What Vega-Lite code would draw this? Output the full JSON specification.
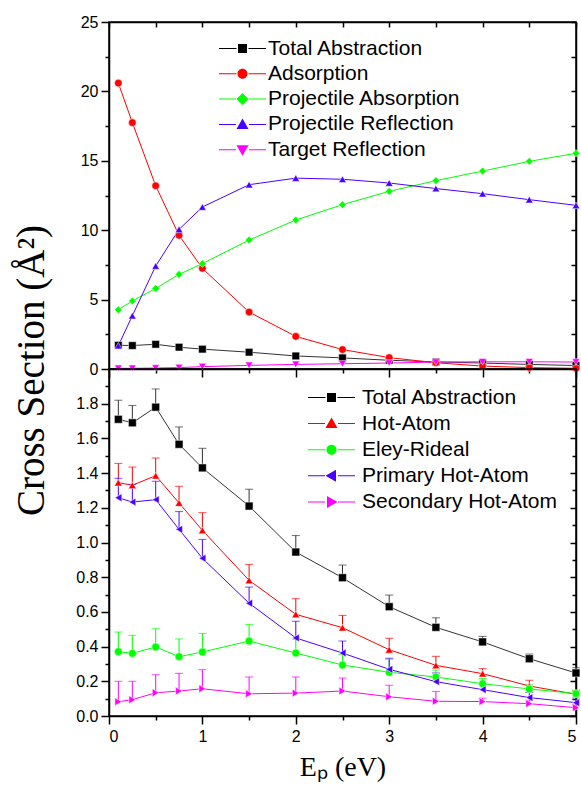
{
  "$schema": "https://vega.github.io/schema/vega-lite/v6.json",
  "padding": {"left": 11, "top": 13, "right": 0, "bottom": 0},
  "background": "white",
  "config": {
    "font": "Liberation Sans",
    "view": {"stroke": "black", "strokeWidth": 1.5},
    "axis": {"domainColor": "black", "domainWidth": 1.5, "tickColor": "black", "tickWidth": 1.5, "labelColor": "black", "labelFont": "Liberation Sans", "labelFontSize": 16, "grid": false, "titleColor": "black", "titleFontWeight": "normal"}
  },
  "datasets": {
    "top": [
      {"E": 0.1, "s": "Total Abstraction", "v": 1.71}, {"E": 0.25, "s": "Total Abstraction", "v": 1.69}, {"E": 0.5, "s": "Total Abstraction", "v": 1.78}, {"E": 0.75, "s": "Total Abstraction", "v": 1.57}, {"E": 1, "s": "Total Abstraction", "v": 1.43}, {"E": 1.5, "s": "Total Abstraction", "v": 1.21}, {"E": 2, "s": "Total Abstraction", "v": 0.94}, {"E": 2.5, "s": "Total Abstraction", "v": 0.8}, {"E": 3, "s": "Total Abstraction", "v": 0.63}, {"E": 3.5, "s": "Total Abstraction", "v": 0.51}, {"E": 4, "s": "Total Abstraction", "v": 0.43}, {"E": 4.5, "s": "Total Abstraction", "v": 0.33}, {"E": 5, "s": "Total Abstraction", "v": 0.25},
      {"E": 0.1, "s": "Adsorption", "v": 20.6}, {"E": 0.25, "s": "Adsorption", "v": 17.75}, {"E": 0.5, "s": "Adsorption", "v": 13.2}, {"E": 0.75, "s": "Adsorption", "v": 9.63}, {"E": 1, "s": "Adsorption", "v": 7.25}, {"E": 1.5, "s": "Adsorption", "v": 4.1}, {"E": 2, "s": "Adsorption", "v": 2.35}, {"E": 2.5, "s": "Adsorption", "v": 1.4}, {"E": 3, "s": "Adsorption", "v": 0.82}, {"E": 3.5, "s": "Adsorption", "v": 0.45}, {"E": 4, "s": "Adsorption", "v": 0.21}, {"E": 4.5, "s": "Adsorption", "v": 0.1}, {"E": 5, "s": "Adsorption", "v": 0.05},
      {"E": 0.1, "s": "Projectile Absorption", "v": 4.27}, {"E": 0.25, "s": "Projectile Absorption", "v": 4.9}, {"E": 0.5, "s": "Projectile Absorption", "v": 5.8}, {"E": 0.75, "s": "Projectile Absorption", "v": 6.82}, {"E": 1, "s": "Projectile Absorption", "v": 7.59}, {"E": 1.5, "s": "Projectile Absorption", "v": 9.29}, {"E": 2, "s": "Projectile Absorption", "v": 10.73}, {"E": 2.5, "s": "Projectile Absorption", "v": 11.84}, {"E": 3, "s": "Projectile Absorption", "v": 12.8}, {"E": 3.5, "s": "Projectile Absorption", "v": 13.57}, {"E": 4, "s": "Projectile Absorption", "v": 14.26}, {"E": 4.5, "s": "Projectile Absorption", "v": 14.96}, {"E": 5, "s": "Projectile Absorption", "v": 15.54},
      {"E": 0.1, "s": "Projectile Reflection", "v": 1.68}, {"E": 0.25, "s": "Projectile Reflection", "v": 3.84}, {"E": 0.5, "s": "Projectile Reflection", "v": 7.42}, {"E": 0.75, "s": "Projectile Reflection", "v": 10.06}, {"E": 1, "s": "Projectile Reflection", "v": 11.67}, {"E": 1.5, "s": "Projectile Reflection", "v": 13.28}, {"E": 2, "s": "Projectile Reflection", "v": 13.75}, {"E": 2.5, "s": "Projectile Reflection", "v": 13.67}, {"E": 3, "s": "Projectile Reflection", "v": 13.4}, {"E": 3.5, "s": "Projectile Reflection", "v": 13.0}, {"E": 4, "s": "Projectile Reflection", "v": 12.63}, {"E": 4.5, "s": "Projectile Reflection", "v": 12.2}, {"E": 5, "s": "Projectile Reflection", "v": 11.79},
      {"E": 0.1, "s": "Target Reflection", "v": 0.05}, {"E": 0.25, "s": "Target Reflection", "v": 0.05}, {"E": 0.5, "s": "Target Reflection", "v": 0.07}, {"E": 0.75, "s": "Target Reflection", "v": 0.1}, {"E": 1, "s": "Target Reflection", "v": 0.17}, {"E": 1.5, "s": "Target Reflection", "v": 0.26}, {"E": 2, "s": "Target Reflection", "v": 0.33}, {"E": 2.5, "s": "Target Reflection", "v": 0.38}, {"E": 3, "s": "Target Reflection", "v": 0.43}, {"E": 3.5, "s": "Target Reflection", "v": 0.5}, {"E": 4, "s": "Target Reflection", "v": 0.52}, {"E": 4.5, "s": "Target Reflection", "v": 0.52}, {"E": 5, "s": "Target Reflection", "v": 0.5}
    ],
    "bot": [
      {"E": 0.1, "s": "Total Abstraction", "v": 1.71, "hi": 1.82}, {"E": 0.25, "s": "Total Abstraction", "v": 1.69, "hi": 1.79}, {"E": 0.5, "s": "Total Abstraction", "v": 1.78, "hi": 1.885}, {"E": 0.75, "s": "Total Abstraction", "v": 1.566, "hi": 1.666}, {"E": 1, "s": "Total Abstraction", "v": 1.43, "hi": 1.543}, {"E": 1.5, "s": "Total Abstraction", "v": 1.21, "hi": 1.307}, {"E": 2, "s": "Total Abstraction", "v": 0.945, "hi": 1.04}, {"E": 2.5, "s": "Total Abstraction", "v": 0.797, "hi": 0.87}, {"E": 3, "s": "Total Abstraction", "v": 0.63, "hi": 0.697}, {"E": 3.5, "s": "Total Abstraction", "v": 0.511, "hi": 0.566}, {"E": 4, "s": "Total Abstraction", "v": 0.427, "hi": 0.459}, {"E": 4.5, "s": "Total Abstraction", "v": 0.33, "hi": 0.357}, {"E": 5, "s": "Total Abstraction", "v": 0.248, "hi": 0.278},
      {"E": 0.1, "s": "Hot-Atom", "v": 1.345, "hi": 1.456}, {"E": 0.25, "s": "Hot-Atom", "v": 1.33, "hi": 1.435}, {"E": 0.5, "s": "Hot-Atom", "v": 1.385, "hi": 1.487}, {"E": 0.75, "s": "Hot-Atom", "v": 1.228, "hi": 1.324}, {"E": 1, "s": "Hot-Atom", "v": 1.07, "hi": 1.172}, {"E": 1.5, "s": "Hot-Atom", "v": 0.782, "hi": 0.874}, {"E": 2, "s": "Hot-Atom", "v": 0.586, "hi": 0.676}, {"E": 2.5, "s": "Hot-Atom", "v": 0.509, "hi": 0.58}, {"E": 3, "s": "Hot-Atom", "v": 0.382, "hi": 0.448}, {"E": 3.5, "s": "Hot-Atom", "v": 0.292, "hi": 0.344}, {"E": 4, "s": "Hot-Atom", "v": 0.244, "hi": 0.273}, {"E": 4.5, "s": "Hot-Atom", "v": 0.173, "hi": 0.206}, {"E": 5, "s": "Hot-Atom", "v": 0.125, "hi": 0.145},
      {"E": 0.1, "s": "Eley-Rideal", "v": 0.371, "hi": 0.484}, {"E": 0.25, "s": "Eley-Rideal", "v": 0.361, "hi": 0.465}, {"E": 0.5, "s": "Eley-Rideal", "v": 0.398, "hi": 0.503}, {"E": 0.75, "s": "Eley-Rideal", "v": 0.342, "hi": 0.444}, {"E": 1, "s": "Eley-Rideal", "v": 0.369, "hi": 0.476}, {"E": 1.5, "s": "Eley-Rideal", "v": 0.432, "hi": 0.528}, {"E": 2, "s": "Eley-Rideal", "v": 0.363, "hi": 0.443}, {"E": 2.5, "s": "Eley-Rideal", "v": 0.294, "hi": 0.354}, {"E": 3, "s": "Eley-Rideal", "v": 0.252, "hi": 0.327}, {"E": 3.5, "s": "Eley-Rideal", "v": 0.225, "hi": 0.265}, {"E": 4, "s": "Eley-Rideal", "v": 0.186, "hi": 0.216}, {"E": 4.5, "s": "Eley-Rideal", "v": 0.156, "hi": 0.181}, {"E": 5, "s": "Eley-Rideal", "v": 0.129, "hi": 0.149},
      {"E": 0.1, "s": "Primary Hot-Atom", "v": 1.258, "hi": 1.37}, {"E": 0.25, "s": "Primary Hot-Atom", "v": 1.233, "hi": 1.335}, {"E": 0.5, "s": "Primary Hot-Atom", "v": 1.247, "hi": 1.353}, {"E": 0.75, "s": "Primary Hot-Atom", "v": 1.076, "hi": 1.178}, {"E": 1, "s": "Primary Hot-Atom", "v": 0.909, "hi": 1.018}, {"E": 1.5, "s": "Primary Hot-Atom", "v": 0.65, "hi": 0.743}, {"E": 2, "s": "Primary Hot-Atom", "v": 0.45, "hi": 0.546}, {"E": 2.5, "s": "Primary Hot-Atom", "v": 0.363, "hi": 0.432}, {"E": 3, "s": "Primary Hot-Atom", "v": 0.269, "hi": 0.333}, {"E": 3.5, "s": "Primary Hot-Atom", "v": 0.198, "hi": 0.248}, {"E": 4, "s": "Primary Hot-Atom", "v": 0.152, "hi": 0.182}, {"E": 4.5, "s": "Primary Hot-Atom", "v": 0.106, "hi": 0.136}, {"E": 5, "s": "Primary Hot-Atom", "v": 0.077, "hi": 0.097},
      {"E": 0.1, "s": "Secondary Hot-Atom", "v": 0.082, "hi": 0.2}, {"E": 0.25, "s": "Secondary Hot-Atom", "v": 0.094, "hi": 0.2}, {"E": 0.5, "s": "Secondary Hot-Atom", "v": 0.134, "hi": 0.238}, {"E": 0.75, "s": "Secondary Hot-Atom", "v": 0.144, "hi": 0.246}, {"E": 1, "s": "Secondary Hot-Atom", "v": 0.157, "hi": 0.267}, {"E": 1.5, "s": "Secondary Hot-Atom", "v": 0.128, "hi": 0.225}, {"E": 2, "s": "Secondary Hot-Atom", "v": 0.132, "hi": 0.225}, {"E": 2.5, "s": "Secondary Hot-Atom", "v": 0.144, "hi": 0.219}, {"E": 3, "s": "Secondary Hot-Atom", "v": 0.111, "hi": 0.177}, {"E": 3.5, "s": "Secondary Hot-Atom", "v": 0.085, "hi": 0.142}, {"E": 4, "s": "Secondary Hot-Atom", "v": 0.083, "hi": 0.103}, {"E": 4.5, "s": "Secondary Hot-Atom", "v": 0.071, "hi": 0.091}, {"E": 5, "s": "Secondary Hot-Atom", "v": 0.048, "hi": 0.068}
    ]
  },
  "vconcat": [
    {
      "width": 467, "height": 347,
      "data": {"name": "top"},
      "layer": [
        {
          "mark": {"type": "line", "strokeWidth": 1},
          "encoding": {
            "x": {"field": "E", "type": "quantitative", "scale": {"domain": [0, 5], "nice": false},
                  "axis": {"orient": "bottom", "values": [0, 0.5, 1, 1.5, 2, 2.5, 3, 3.5, 4, 4.5, 5], "labels": false, "title": null,
                           "tickSize": {"condition": {"test": "datum.value % 1 === 0", "value": 8}, "value": 4}}},
            "y": {"field": "v", "type": "quantitative", "scale": {"domain": [0, 25], "nice": false},
                  "axis": {"orient": "left", "values": [0, 2.5, 5, 7.5, 10, 12.5, 15, 17.5, 20, 22.5, 25],
                           "labelExpr": "datum.value % 5 === 0 ? format(datum.value, 'd') : ''", "labelPadding": 3,
                           "tickSize": {"condition": {"test": "datum.value % 5 === 0", "value": 8}, "value": 4},
                           "title": "Cross Section (Å²)", "titleFont": "Liberation Serif", "titleFontSize": 39,
                           "titleAngle": 270, "titleAlign": "center", "titleBaseline": "alphabetic", "titleX": -66, "titleY": 348}},
            "color": {"field": "s", "type": "nominal", "legend": null,
                      "scale": {"domain": ["Total Abstraction", "Adsorption", "Projectile Absorption", "Projectile Reflection", "Target Reflection"],
                                "range": ["#333333", "#FF0000", "#00FF00", "#4B00FF", "#FF00FF"]}}
          }
        },
        {
          "mark": {"type": "point", "filled": true, "size": 58, "opacity": 1, "stroke": "white", "strokeWidth": 0.5},
          "encoding": {
            "x": {"field": "E", "type": "quantitative",
                  "axis": {"orient": "top", "values": [0, 0.5, 1, 1.5, 2, 2.5, 3, 3.5, 4, 4.5, 5], "labels": false, "title": null, "tickSize": -5}},
            "y": {"field": "v", "type": "quantitative",
                  "axis": {"orient": "right", "values": [0, 2.5, 5, 7.5, 10, 12.5, 15, 17.5, 20, 22.5, 25], "labels": false, "title": null, "tickSize": -5}},
            "color": {"field": "s", "type": "nominal", "legend": null,
                      "scale": {"domain": ["Total Abstraction", "Adsorption", "Projectile Absorption", "Projectile Reflection", "Target Reflection"],
                                "range": ["#000000", "#FF0000", "#00FF00", "#4B00FF", "#FF00FF"]}},
            "shape": {"field": "s", "type": "nominal", "legend": null,
                      "scale": {"domain": ["Total Abstraction", "Adsorption", "Projectile Absorption", "Projectile Reflection", "Target Reflection"],
                                "range": ["square", "circle", "diamond", "triangle-up", "triangle-down"]}}
          }
        },
        {
          "mark": {"type": "point", "filled": true, "opacity": 0},
          "encoding": {
            "x": {"field": "E", "type": "quantitative", "axis": null},
            "y": {"field": "v", "type": "quantitative", "axis": null},
            "color": {"field": "s", "type": "nominal",
                      "scale": {"domain": ["Total Abstraction", "Adsorption", "Projectile Absorption", "Projectile Reflection", "Target Reflection"],
                                "range": ["#000000", "#FF0000", "#00FF00", "#4B00FF", "#FF00FF"]},
                      "legend": {"orient": "none", "legendX": 123, "legendY": 16, "title": null, "labelFont": "Liberation Sans", "labelFontSize": 21, "labelColor": "black", "labelLimit": 400, "symbolSize": 100, "symbolStrokeWidth": 0, "labelOffset": 15, "rowPadding": 3.3, "padding": 0, "symbolOpacity": 1}},
            "shape": {"field": "s", "type": "nominal",
                      "scale": {"domain": ["Total Abstraction", "Adsorption", "Projectile Absorption", "Projectile Reflection", "Target Reflection"],
                                "range": [
                                  "M-4.7,-0.1H-1.2V0.1H-4.7Z M1.2,-0.1H4.7V0.1H1.2Z M-0.9,-0.9H0.9V0.9H-0.9Z",
                                  "M-4.7,-0.1H-1.2V0.1H-4.7Z M1.2,-0.1H4.7V0.1H1.2Z M-1,0A1,1,0,1,0,1,0A1,1,0,1,0,-1,0Z",
                                  "M-4.7,-0.1H-1.3V0.1H-4.7Z M1.3,-0.1H4.7V0.1H1.3Z M0,-1.2L1.2,0L0,1.2L-1.2,0Z",
                                  "M-4.7,-0.1H-1.3V0.1H-4.7Z M1.3,-0.1H4.7V0.1H1.3Z M0,-1.2L1.2,0.9L-1.2,0.9Z",
                                  "M-4.7,-0.1H-1.3V0.1H-4.7Z M1.3,-0.1H4.7V0.1H1.3Z M0,1.2L1.2,-0.9L-1.2,-0.9Z"
                                ]},
                      "legend": {"orient": "none", "legendX": 123, "legendY": 16, "title": null, "labelFont": "Liberation Sans", "labelFontSize": 21, "labelColor": "black", "labelLimit": 400, "symbolSize": 100, "symbolStrokeWidth": 0, "labelOffset": 15, "rowPadding": 3.3, "padding": 0, "symbolOpacity": 1}}
          }
        }
      ],
      "resolve": {"scale": {"color": "independent", "shape": "independent"}, "axis": {"x": "independent", "y": "independent"}}
    },
    {
      "width": 467, "height": 347,
      "data": {"name": "bot"},
      "layer": [
        {
          "mark": {"type": "line", "strokeWidth": 1},
          "encoding": {
            "x": {"field": "E", "type": "quantitative", "scale": {"domain": [0, 5], "nice": false},
                  "axis": {"orient": "bottom", "values": [0, 0.5, 1, 1.5, 2, 2.5, 3, 3.5, 4, 4.5, 5],
                           "labelExpr": "datum.value % 1 === 0 ? format(datum.value, 'd') : ''", "labelPadding": 4,
                           "tickSize": {"condition": {"test": "datum.value % 1 === 0", "value": 8}, "value": 4},
                           "title": "Eₚ (eV)", "titleFont": "Liberation Serif", "titleFontSize": 28, "titleBaseline": "alphabetic", "titleY": 59}},
            "y": {"field": "v", "type": "quantitative", "scale": {"domain": [0, 2], "nice": false},
                  "axis": {"orient": "left", "values": [0, 0.1, 0.2, 0.3, 0.4, 0.5, 0.6, 0.7, 0.8, 0.9, 1, 1.1, 1.2, 1.3, 1.4, 1.5, 1.6, 1.7, 1.8, 1.9],
                           "labelExpr": "round(datum.value * 10) % 2 === 0 ? format(datum.value, '.1f') : ''", "labelPadding": 3,
                           "tickSize": {"condition": {"test": "round(datum.value * 10) % 2 === 0", "value": 8}, "value": 4},
                           "title": null}},
            "color": {"field": "s", "type": "nominal", "legend": null,
                      "scale": {"domain": ["Total Abstraction", "Hot-Atom", "Eley-Rideal", "Primary Hot-Atom", "Secondary Hot-Atom"],
                                "range": ["#333333", "#FF0000", "#00FF00", "#4B00FF", "#FF00FF"]}}
          }
        },
        {
          "mark": {"type": "rule", "strokeWidth": 1},
          "encoding": {
            "x": {"field": "E", "type": "quantitative", "axis": null},
            "y": {"field": "v", "type": "quantitative", "axis": null},
            "y2": {"field": "hi"},
            "color": {"field": "s", "type": "nominal", "legend": null,
                      "scale": {"domain": ["Total Abstraction", "Hot-Atom", "Eley-Rideal", "Primary Hot-Atom", "Secondary Hot-Atom"],
                                "range": ["#333333", "#FF0000", "#00FF00", "#4B00FF", "#FF00FF"]}}
          }
        },
        {
          "mark": {"type": "tick", "orient": "horizontal", "size": 8, "thickness": 1},
          "encoding": {
            "x": {"field": "E", "type": "quantitative", "axis": null},
            "y": {"field": "hi", "type": "quantitative", "axis": null},
            "color": {"field": "s", "type": "nominal", "legend": null,
                      "scale": {"domain": ["Total Abstraction", "Hot-Atom", "Eley-Rideal", "Primary Hot-Atom", "Secondary Hot-Atom"],
                                "range": ["#333333", "#FF0000", "#00FF00", "#4B00FF", "#FF00FF"]}}
          }
        },
        {
          "mark": {"type": "point", "filled": true, "size": 62, "opacity": 1, "stroke": "white", "strokeWidth": 0.5},
          "encoding": {
            "x": {"field": "E", "type": "quantitative", "axis": null},
            "y": {"field": "v", "type": "quantitative",
                  "axis": {"orient": "right", "values": [0, 0.1, 0.2, 0.3, 0.4, 0.5, 0.6, 0.7, 0.8, 0.9, 1, 1.1, 1.2, 1.3, 1.4, 1.5, 1.6, 1.7, 1.8, 1.9], "labels": false, "title": null,
                           "tickSize": {"condition": {"test": "round(datum.value * 10) % 2 === 0", "value": -6}, "value": -4}}},
            "color": {"field": "s", "type": "nominal", "legend": null,
                      "scale": {"domain": ["Total Abstraction", "Hot-Atom", "Eley-Rideal", "Primary Hot-Atom", "Secondary Hot-Atom"],
                                "range": ["#000000", "#FF0000", "#00FF00", "#4B00FF", "#FF00FF"]}},
            "shape": {"field": "s", "type": "nominal", "legend": null,
                      "scale": {"domain": ["Total Abstraction", "Hot-Atom", "Eley-Rideal", "Primary Hot-Atom", "Secondary Hot-Atom"],
                                "range": ["square", "triangle-up", "circle", "triangle-left", "triangle-right"]}}
          }
        },
        {
          "mark": {"type": "point", "filled": true, "opacity": 0},
          "encoding": {
            "x": {"field": "E", "type": "quantitative", "axis": null},
            "y": {"field": "v", "type": "quantitative", "axis": null},
            "color": {"field": "s", "type": "nominal",
                      "scale": {"domain": ["Total Abstraction", "Hot-Atom", "Eley-Rideal", "Primary Hot-Atom", "Secondary Hot-Atom"],
                                "range": ["#000000", "#FF0000", "#00FF00", "#4B00FF", "#FF00FF"]},
                      "legend": {"orient": "none", "legendX": 212, "legendY": 18, "title": null, "labelFont": "Liberation Sans", "labelFontSize": 21, "labelColor": "black", "labelLimit": 400, "symbolSize": 100, "symbolStrokeWidth": 0, "labelOffset": 20, "rowPadding": 4.1, "padding": 0, "symbolOpacity": 1}},
            "shape": {"field": "s", "type": "nominal",
                      "scale": {"domain": ["Total Abstraction", "Hot-Atom", "Eley-Rideal", "Primary Hot-Atom", "Secondary Hot-Atom"],
                                "range": [
                                  "M-4.7,-0.1H-1.2V0.1H-4.7Z M1.2,-0.1H4.7V0.1H1.2Z M-0.9,-0.9H0.9V0.9H-0.9Z",
                                  "M-4.7,-0.1H-1.3V0.1H-4.7Z M1.3,-0.1H4.7V0.1H1.3Z M0,-1.2L1.2,0.9L-1.2,0.9Z",
                                  "M-4.7,-0.1H-1.2V0.1H-4.7Z M1.2,-0.1H4.7V0.1H1.2Z M-1,0A1,1,0,1,0,1,0A1,1,0,1,0,-1,0Z",
                                  "M-4.7,-0.1H-1.3V0.1H-4.7Z M1.3,-0.1H4.7V0.1H1.3Z M-1.2,0L0.9,-1.2L0.9,1.2Z",
                                  "M-4.7,-0.1H-1.3V0.1H-4.7Z M1.3,-0.1H4.7V0.1H1.3Z M1.2,0L-0.9,-1.2L-0.9,1.2Z"
                                ]},
                      "legend": {"orient": "none", "legendX": 212, "legendY": 18, "title": null, "labelFont": "Liberation Sans", "labelFontSize": 21, "labelColor": "black", "labelLimit": 400, "symbolSize": 100, "symbolStrokeWidth": 0, "labelOffset": 20, "rowPadding": 4.1, "padding": 0, "symbolOpacity": 1}}
          }
        }
      ],
      "resolve": {"scale": {"color": "independent", "shape": "independent"}, "axis": {"x": "independent", "y": "independent"}}
    }
  ],
  "spacing": 0,
  "bounds": "flush",
  "resolve": {"scale": {"color": "independent", "shape": "independent"}}
}
